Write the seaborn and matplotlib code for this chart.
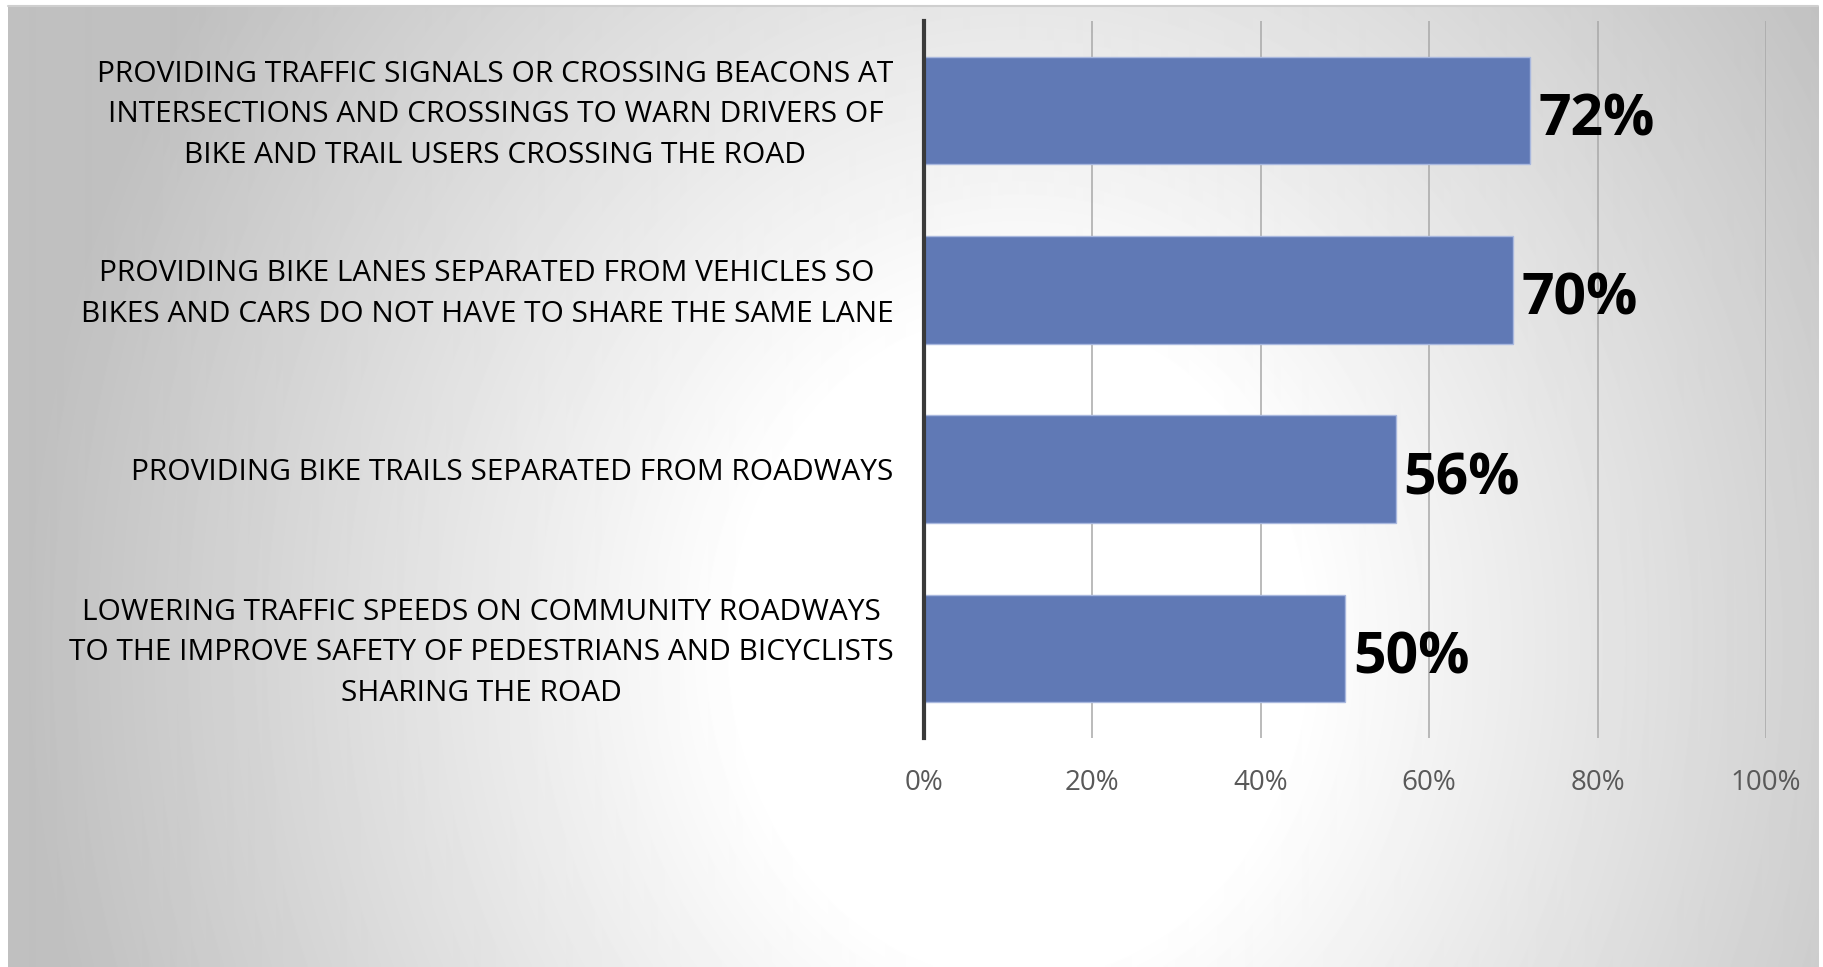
import numpy as np
import pandas as pd
import matplotlib
matplotlib.use("Agg")
import matplotlib.pyplot as plt
from matplotlib.ticker import FuncFormatter
from matplotlib.lines import Line2D
from matplotlib.transforms import ScaledTranslation
import seaborn as sns

# Survey responses: share of respondents supporting each safety measure
categories = [
    "PROVIDING TRAFFIC SIGNALS OR CROSSING BEACONS AT\nINTERSECTIONS AND CROSSINGS TO WARN DRIVERS OF\nBIKE AND TRAIL USERS CROSSING THE ROAD",
    "PROVIDING BIKE LANES SEPARATED FROM VEHICLES SO\nBIKES AND CARS DO NOT HAVE TO SHARE THE SAME LANE",
    "PROVIDING BIKE TRAILS SEPARATED FROM ROADWAYS",
    "LOWERING TRAFFIC SPEEDS ON COMMUNITY ROADWAYS\nTO THE IMPROVE SAFETY OF PEDESTRIANS AND BICYCLISTS\nSHARING THE ROAD",
]
support_pct = [72, 70, 56, 50]
x_ticks = [0, 20, 40, 60, 80, 100]

df = pd.DataFrame({"measure": categories, "pct": support_pct})

sns.set_theme(style="white")
plt.rcParams["font.family"] = ["Open Sans", "DejaVu Sans"]

W, H = 1823, 967
fig = plt.figure(figsize=(W / 100, H / 100), dpi=100)
fig.patch.set_facecolor("white")

# soft radial backdrop: white centre fading to grey at the edges
bg = fig.add_axes([8 / W, 0, (W - 13) / W, (H - 6) / H], zorder=-10)
gx, gy = np.meshgrid(np.arange(W - 13), np.arange(H - 6))
r = np.sqrt(((gx - 1010) / 1000.0) ** 2 + ((gy - 640) / 1150.0) ** 2)
shade = 1 - 0.25 * np.clip((r - 0.28) / 0.72, 0, 1)
bg.imshow(shade, cmap="gray", vmin=0, vmax=1, aspect="auto",
          interpolation="bilinear", origin="upper")
bg.set_axis_off()
fig.add_artist(Line2D([8 / W, (W - 5) / W], [1 - 5.5 / H, 1 - 5.5 / H],
                      transform=fig.transFigure, color="#cfcfcf", lw=1.5))

ax = fig.add_axes([924 / W, 1 - 738 / H, (1766 - 924) / W, (738 - 21) / H])
ax.set_facecolor("none")

sns.barplot(data=df, x="pct", y="measure", orient="h", color="#6079b5",
            saturation=1, width=0.6, edgecolor="#a9b8de", linewidth=1.0,
            ax=ax, zorder=3)

ax.set_xlim(0, 100)
ax.set_xticks(x_ticks)
ax.xaxis.set_major_formatter(FuncFormatter(lambda v, p: f"{v:.0f}%"))
ax.set_xlabel("")
ax.set_ylabel("")

# vertical gridlines
for t in x_ticks[1:]:
    ax.axvline(t, color="#a8a8a8", lw=1.1, zorder=1)

for side in ["top", "right", "bottom"]:
    ax.spines[side].set_visible(False)
ax.spines["left"].set_color("#3a3a3a")
ax.spines["left"].set_linewidth(3)
ax.spines["left"].set_zorder(5)

ax.tick_params(axis="x", length=0, pad=22, labelsize=20, labelcolor="#595959")
ax.tick_params(axis="y", length=0, pad=22, labelsize=21.5, labelcolor="black")
lift = ScaledTranslation(0, 5 / 100, fig.dpi_scale_trans)
for lbl in ax.get_yticklabels():
    lbl.set_multialignment("center")
    lbl.set_linespacing(1.52)
    if "\n" in lbl.get_text():
        lbl.set_transform(lbl.get_transform() + lift)

# value labels at the bar ends
for i, v in enumerate(support_pct):
    ax.annotate(f"{v}%", xy=(v, i), xytext=(8, -10), textcoords="offset pixels",
                ha="left", va="center", fontsize=41, fontweight="bold",
                color="black", family=["Open Sans", "DejaVu Sans"], zorder=6)

fig.savefig("out.png", dpi=100)
